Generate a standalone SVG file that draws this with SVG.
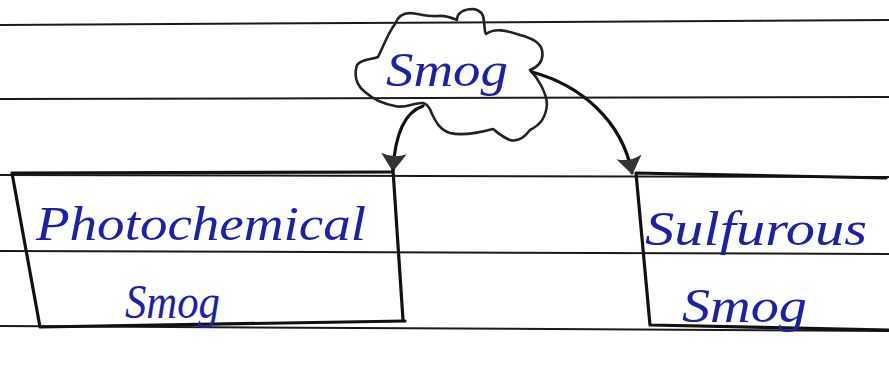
<svg xmlns="http://www.w3.org/2000/svg" width="889" height="367" viewBox="0 0 889 367">
<defs>
<style>
.paper{stroke:#1a1a1a;stroke-width:2;fill:none}
.pen{stroke:#111;stroke-width:3.2;fill:none;stroke-linecap:round;stroke-linejoin:round}
.cloud{stroke:#222;stroke-width:2.6;fill:none;stroke-linejoin:round}
.ink{fill:#1b22a8;font-family:"Liberation Serif","DejaVu Serif",serif;font-style:italic}
</style>
<marker id="ah" viewBox="0 -2 10 14" refX="9" refY="5" markerWidth="6" markerHeight="8" orient="auto" markerUnits="strokeWidth">
<path d="M0,-2 L10,5 L0,12 Q3,5 0,-2 Z" fill="#333"/>
</marker>
</defs>
<rect width="889" height="367" fill="#fff"/>
<g id="paper-lines">
<path class="paper" d="M0,25 L889,20"/>
<path class="paper" d="M0,99 L889,97"/>
<path class="paper" d="M0,175 L889,177"/>
<path class="paper" d="M0,251 L889,254"/>
<path class="paper" d="M0,326 L889,331"/>
</g>
<g id="node-photochemical">
<path class="pen" d="M12,173 L392,172 M12,173 L40,327 L405,321"/>
<text class="ink" x="36" y="240" font-size="48" textLength="330" lengthAdjust="spacingAndGlyphs">Photochemical</text>
<text class="ink" x="125" y="318" font-size="48" textLength="95" lengthAdjust="spacingAndGlyphs">Smog</text>
</g>
<g id="node-sulfurous">
<path class="pen" d="M886,178 L636,173 L650,325 L889,330"/>
<text class="ink" x="645" y="245" font-size="48" textLength="222" lengthAdjust="spacingAndGlyphs">Sulfurous</text>
<text class="ink" x="682" y="322" font-size="48" textLength="125" lengthAdjust="spacingAndGlyphs">Smog</text>
</g>
<g id="node-smog">
<path class="cloud" d="M395,24 C398,16 404,13 410,13 C420,14 428,17 438,16 C446,15 452,18 457,20 C457,12 465,9 473,9 C481,10 484,15 484,22 C485,27 484,31 486,34 C495,28 505,30 520,35 C532,38 540,42 542,50 C544,60 540,66 530,70 C538,78 546,92 547,104 C546,118 540,125 530,130 C524,138 518,142 510,140 C502,137 497,132 493,129 C478,133 462,136 450,133 C440,130 436,122 432,114 C430,108 428,104 423,103 C415,102 405,109 395,106 C384,104 374,100 365,92 C356,85 354,75 357,65 C362,58 372,60 378,57 C384,45 388,33 395,24 Z"/>
<text class="ink" x="386" y="86" font-size="48" textLength="122" lengthAdjust="spacingAndGlyphs">Smog</text>
</g>
<g id="connectors">
<path class="pen" d="M423,106 C405,112 395,135 393,170" marker-end="url(#ah)"/>
<path class="pen" d="M393,170 L403,320"/>
<path class="pen" d="M532,72 C580,85 622,120 632,173" marker-end="url(#ah)"/>
</g>
</svg>
